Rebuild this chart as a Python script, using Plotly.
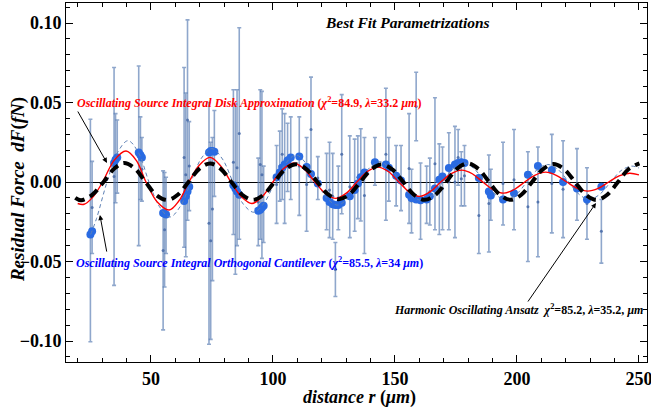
import plotly.graph_objects as go

# ---------------- data ----------------
# measured residuals: distance (um), residual force (fN), error bar half-width
r_data = [25.2, 25.9, 34.9, 35.5, 36.2, 45.0, 45.7, 46.3, 55.0, 55.6, 56.2,
          63.6, 64.3, 65.0, 65.7, 73.8, 74.5, 75.2, 76.0, 83.8, 84.6, 85.3, 86.2,
          94.0, 94.8, 95.5, 96.2, 101.5, 102.8, 103.8, 104.8, 106.0, 107.3, 110.8,
          113.8, 115.6, 118.4, 122.0, 123.2, 124.5, 125.6, 126.8, 128.2,
          131.5, 133.5, 134.8, 136.0, 137.5, 141.8, 146.3, 147.5,
          150.5, 152.5, 155.8, 156.8, 158.7, 160.5, 163.0, 164.3, 166.4, 168.2,
          169.5, 172.1, 174.6, 175.9, 177.2, 178.5, 184.4, 188.5, 189.3, 194.3,
          198.8, 204.5, 208.6, 214.3, 218.9, 224.6, 228.7, 234.6]
df_data = [-0.0305, -0.016, 0.0035, 0.015, 0.016, 0.0165, 0.015, 0.008, -0.043, -0.030, -0.021,
           0.0155, 0.0045, 0.039, 0.010, -0.026, -0.037, -0.017, 0.018, 0.0125, -0.0045, 0.009, 0.0305,
           -0.0125, 0.011, 0.0045, -0.014, -0.0015, 0.010, 0.0175, 0.0085, 0.0155, 0.015, 0.010,
           -0.0015, 0.033, 0.0025, -0.006, -0.005, -0.009, -0.055, -0.010, 0.0175,
           -0.003, -0.002, 0.003, 0.0045, -0.0085, 0.013, 0.0175, 0.008,
           0.004, 0.0025, 0.0085, -0.012, 0.0475, -0.012, -0.008, -0.006, 0.0115, -0.0045,
           -0.004, 0.0005, 0.000, 0.0155, 0.002, 0.004, -0.021, -0.0135, -0.008, -0.001,
           0.0015, -0.0155, -0.0125, -0.001, -0.0045, -0.0015, -0.0135, -0.031]
df_err = [0.070, 0.029, 0.0685, 0.028, 0.023, 0.0565, 0.026, 0.020, 0.050, 0.036, 0.024,
          0.0565, 0.0515, 0.063, 0.028, 0.076, 0.062, 0.045, 0.027, 0.0455, 0.0535, 0.049, 0.0665,
          0.0275, 0.047, 0.0525, 0.024, 0.0245, 0.022, 0.0285, 0.0345, 0.0215, 0.026, 0.031,
          0.0295, 0.033, 0.0135, 0.024, 0.030, 0.027, 0.017, 0.020, 0.0375,
          0.032, 0.029, 0.026, 0.029, 0.0365, 0.015, 0.0415, 0.020,
          0.019, 0.0205, 0.0345, 0.020, 0.0215, 0.024, 0.018, 0.021, 0.0415, 0.0285,
          0.026, 0.0305, 0.035, 0.0175, 0.017, 0.019, 0.024, 0.0305, 0.016, 0.026,
          0.0315, 0.0345, 0.0345, 0.031, 0.0305, 0.0225, 0.0225, 0.020]
# orthogonal-cantilever model value at each measured distance (large blue dots)
df_model = [-0.033, -0.031, 0.012, 0.014, 0.0155, 0.0185, 0.017, 0.0155, -0.0195, -0.020, -0.0205,
            -0.012, -0.009, -0.006, -0.003, 0.0185, 0.0195, 0.0195, 0.019, -0.002, -0.004, -0.006, -0.008,
            -0.018, -0.0175, -0.016, -0.015, 0.003, 0.006, 0.009, 0.011, 0.0135, 0.0155, 0.016,
            0.0095, 0.005, -0.001, -0.010, -0.0125, -0.014, -0.0145, -0.0145, -0.013,
            -0.009, -0.005, -0.001, 0.003, 0.006, 0.0125, 0.011, 0.009,
            0.004, 0.001, -0.008, -0.010, -0.011, -0.0115, -0.011, -0.009, -0.004, 0.0015,
            0.0035, 0.0088, 0.011, 0.012, 0.0125, 0.012, 0.0025, -0.006, -0.0085, -0.011,
            -0.007, 0.0045, 0.010, 0.0075, 0.000, -0.004, -0.011, -0.003]

# fitted curves
blue_r = [25.3, 27.7, 32.0, 36.3, 40.6, 44.9, 49.2, 53.5, 57.8, 62.1, 66.4, 70.7, 75.0, 79.3,
          83.6, 87.9, 92.2, 96.5, 100.8, 105.1, 109.4, 113.7, 118.0, 122.3, 126.6, 130.9,
          135.2, 139.5, 143.8, 148.1, 152.4, 156.7, 161.0, 165.3, 169.6, 173.9, 178.2, 182.5,
          186.8, 191.1, 195.4, 199.7, 204.0, 208.3, 212.6, 216.9, 221.2, 225.5, 229.8, 234.1,
          238.4, 242.7, 247.0, 250.0]
blue_df = [-0.033, -0.023, 0.0, 0.0185, 0.026, 0.0185, 0.0, -0.0155, -0.022, -0.0152, 0.0, 0.015,
           0.021, 0.0145, 0.0, -0.014, -0.019, -0.013, 0.0, 0.0115, 0.017, 0.0115, 0.0, -0.0105,
           -0.0145, -0.0098, 0.0, 0.0088, 0.0128, 0.0085, 0.0, -0.0085, -0.0115, -0.0083, 0.0,
           0.0083, 0.012, 0.0083, 0.0, -0.0078, -0.011, -0.0078, 0.0, 0.0078, 0.011, 0.0078, 0.0,
           -0.0078, -0.011, -0.0075, 0.0, 0.0072, 0.010, 0.0088]

red_r = [20.0, 22.6, 26.2, 30.2, 35.0, 39.8, 44.0, 48.0, 52.6, 57.5, 61.5, 65.6, 69.9, 74.2,
         78.5, 82.8, 87.1, 91.4, 95.7, 100.0, 104.3, 108.6, 112.9, 117.2, 121.5, 125.8, 130.1,
         134.4, 138.7, 143.0, 147.3, 151.6, 155.9, 160.2, 164.5, 168.8, 173.1, 177.4, 181.7,
         186.0, 190.3, 194.6, 198.9, 203.2, 207.5, 211.8, 216.1, 220.4, 224.7, 229.0, 233.3,
         237.6, 241.9, 246.2, 250.0]
red_df = [-0.0135, -0.0140, -0.0095, 0.0, 0.0138, 0.0195, 0.0136, 0.0, -0.0126, -0.0176, -0.0118,
          0.0, 0.0107, 0.0155, 0.0103, 0.0, -0.0093, -0.0135, -0.0090, 0.0, 0.0083, 0.0120, 0.0080,
          0.0, -0.0072, -0.0103, -0.0070, 0.0, 0.0066, 0.0094, 0.0066, 0.0, -0.0063, -0.0090,
          -0.0060, 0.0, 0.0053, 0.0075, 0.0052, 0.0, -0.0049, -0.0070, -0.0047, 0.0, 0.0044,
          0.0062, 0.0042, 0.0, -0.0040, -0.0057, -0.0040, 0.0, 0.0039, 0.0055, 0.0045]

black_r = [19.0, 21.4, 25.8, 30.6, 35.0, 39.0, 43.4, 47.8, 52.2, 56.8, 61.0, 65.4, 69.8, 74.2,
           78.6, 83.0, 87.4, 91.8, 96.2, 100.6, 105.0, 109.4, 113.8, 118.2, 122.6, 127.0, 131.4,
           135.8, 140.2, 144.6, 149.0, 153.4, 157.8, 162.2, 166.6, 171.0, 175.4, 179.8, 184.2,
           188.6, 193.0, 197.4, 201.8, 206.2, 210.6, 215.0, 219.4, 223.8, 228.2, 232.6, 237.0,
           241.4, 245.8, 250.2]
black_df = [-0.0100, -0.0115, -0.0082, 0.0, 0.0085, 0.0120, 0.0085, 0.0, -0.0082, -0.0113, -0.0080,
            0.0, 0.0083, 0.0117, 0.0083, 0.0, -0.0080, -0.0112, -0.0080, 0.0, 0.0080, 0.0112,
            0.0080, 0.0, -0.0078, -0.0108, -0.0077, 0.0, 0.0078, 0.0110, 0.0078, 0.0, -0.0080,
            -0.0112, -0.0080, 0.0, 0.0083, 0.0117, 0.0083, 0.0, -0.0080, -0.0112, -0.0080, 0.0,
            0.0080, 0.0113, 0.0080, 0.0, -0.0080, -0.0113, -0.0080, 0.0, 0.0082, 0.0117]

x_ticks = [50, 100, 150, 200, 250]
y_ticks = [-0.10, -0.05, 0.00, 0.05, 0.10]

# ---------------- figure ----------------
SERIF = "Liberation Serif"
fig = go.Figure()

fig.add_trace(go.Scatter(
    x=r_data, y=df_data, mode="markers",
    marker=dict(size=3, color="rgba(75,110,170,0.9)"),
    error_y=dict(type="data", array=df_err, symmetric=True,
                 color="rgba(90,125,180,0.68)", thickness=1.6, width=2),
    showlegend=False, hoverinfo="skip"))

fig.add_trace(go.Scatter(
    x=r_data, y=df_model, mode="markers",
    marker=dict(size=8, color="#2a6be2"),
    showlegend=False, hoverinfo="skip"))

fig.add_trace(go.Scatter(
    x=blue_r, y=blue_df, mode="lines",
    line=dict(color="#5e81b5", width=1, dash="4px,3px", shape="spline"),
    showlegend=False))

fig.add_trace(go.Scatter(
    x=red_r, y=red_df, mode="lines",
    line=dict(color="#ff0000", width=1.4, shape="spline"),
    showlegend=False))

fig.add_trace(go.Scatter(
    x=black_r, y=black_df, mode="lines",
    line=dict(color="black", width=4, dash="10px,6px", shape="spline"),
    showlegend=False))

tickfont = dict(family=SERIF, size=18, color="black", weight="bold")
fig.update_layout(
    width=651, height=413,
    margin=dict(l=66, r=4, t=3, b=51),
    plot_bgcolor="white", paper_bgcolor="white",
    xaxis=dict(range=[15.2, 253.3], tickvals=x_ticks, ticks="inside", ticklen=7,
               tickcolor="black", tickwidth=1, showline=True, linecolor="black",
               linewidth=1, mirror="ticks", showgrid=False, zeroline=False,
               tickfont=tickfont, automargin=False, ticklabeloverflow="allow",
               minor=dict(dtick=10, tick0=0, ticks="inside", ticklen=4,
                          tickcolor="black", showgrid=False)),
    yaxis=dict(range=[-0.1132, 0.1126], tickvals=y_ticks, tickformat=".2f",
               ticks="inside", ticklen=7, tickcolor="black", tickwidth=1,
               showline=True, linecolor="black", linewidth=1, mirror="ticks",
               showgrid=False, zeroline=True, zerolinecolor="black",
               zerolinewidth=1.2, tickfont=tickfont, automargin=False,
               ticklabeloverflow="allow",
               minor=dict(dtick=0.01, tick0=0, ticks="inside", ticklen=4,
                          tickcolor="black", showgrid=False)),
)

ann_font = dict(family=SERIF, size=12, weight="bold")
annotations = [
    dict(x=155.3, y=0.1006, xref="x", yref="y", showarrow=False,
         xanchor="center", yanchor="middle",
         text="<i>Best Fit Parametrizations</i>",
         font=dict(family=SERIF, size=15.5, color="black", weight="bold")),
    dict(x=18.8, y=0.0503, xref="x", yref="y", xanchor="left", yanchor="middle", showarrow=False,
         text="<i>Oscillating Source Integral Disk Approximation</i> (<i>χ</i><sup>2</sup>=84.9, <i>λ</i>=33.2 <i>μm</i>)",
         font=dict(ann_font, color="#ff0000")),
    dict(x=18.4, y=-0.0503, xref="x", yref="y", xanchor="left", yanchor="middle", showarrow=False,
         text="<i>Oscillating Source Integral Orthogonal Cantilever</i> (<i>χ</i><sup>2</sup>=85.5, <i>λ</i>=34 <i>μm</i>)",
         font=dict(ann_font, color="#0000ff")),
    dict(x=148.8, y=-0.0799, xref="x", yref="y", xanchor="left", yanchor="middle", showarrow=False,
         text="<i>Harmonic Oscillating Ansatz</i>  <i>χ</i><sup>2</sup>=85.2, <i>λ</i>=35.2, <i>μm</i>",
         font=dict(ann_font, color="black")),
    # arrows
    dict(x=32.0, y=0.012, ax=19.7, ay=0.0453, xref="x", yref="y", axref="x", ayref="y",
         text="", showarrow=True, arrowhead=2, arrowsize=1, arrowwidth=1, arrowcolor="black"),
    dict(x=29.1, y=-0.0208, ax=32.0, ay=-0.0447, xref="x", yref="y", axref="x", ayref="y",
         text="", showarrow=True, arrowhead=2, arrowsize=1, arrowwidth=1, arrowcolor="black"),
    dict(x=232.4, y=-0.0132, ax=204.1, ay=-0.0761, xref="x", yref="y", axref="x", ayref="y",
         text="", showarrow=True, arrowhead=2, arrowsize=1, arrowwidth=1, arrowcolor="black"),
    # axis titles
    dict(x=0.506, y=-0.099, xref="paper", yref="paper", showarrow=False,
         xanchor="center", yanchor="middle",
         text="<i>distance r</i> (<i>μm</i>)",
         font=dict(family=SERIF, size=18, color="black", weight="bold")),
    dict(x=-0.0826, y=0.479, xref="paper", yref="paper", showarrow=False, textangle=-90,
         xanchor="center", yanchor="middle",
         text="<i>Residual Force  dF</i>(<i>fN</i>)",
         font=dict(family=SERIF, size=19, color="black", weight="bold")),
]
fig.update_layout(annotations=annotations)

fig.write_html("out.html", config={"displayModeBar": False},
               post_script="document.body.style.margin='0';")
